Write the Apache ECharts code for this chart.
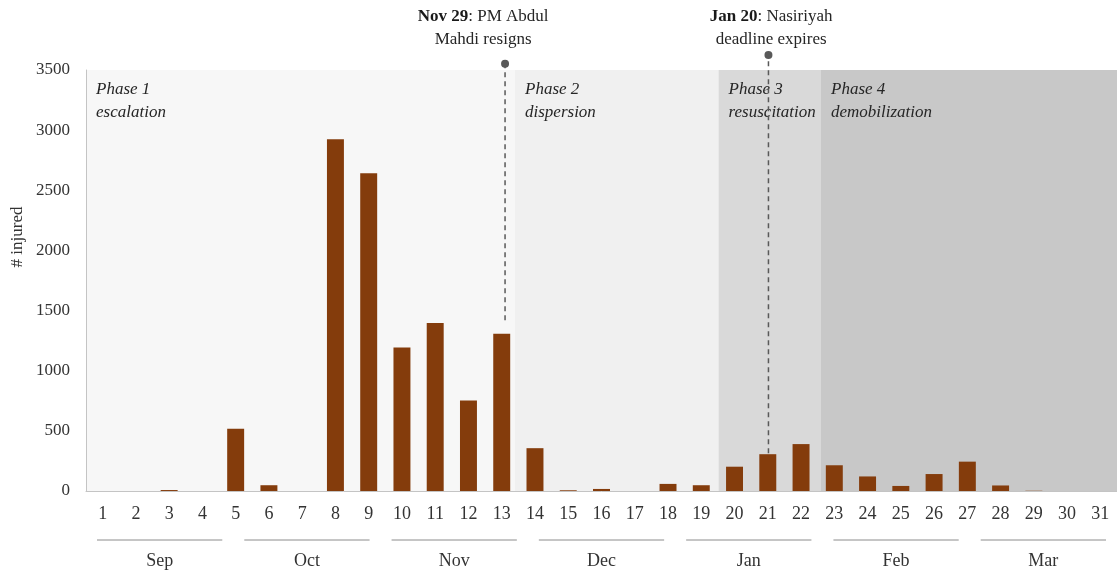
<!DOCTYPE html>
<html><head><meta charset="utf-8">
<script src="https://cdn.jsdelivr.net/npm/echarts@6/dist/echarts.min.js"></script>
<style>html,body{margin:0;padding:0;background:#fff}#c{width:1117px;height:570px}</style>
</head><body><div id="c"></div>
<script>
// ---- data ----
const weeks = ['1','2','3','4','5','6','7','8','9','10','11','12','13','14','15','16','17','18','19','20','21','22','23','24','25','26','27','28','29','30','31'];
const injured = [0,0,8,0,518,48,0,2925,2642,1193,1397,752,1308,356,6,17,0,59,48,202,306,390,214,121,42,141,244,46,2,0,0];
const months = ['Sep','Oct','Nov','Dec','Jan','Feb','Mar'];
const yTicks = [0,500,1000,1500,2000,2500,3000,3500];
const phaseNames = ['Phase 1','Phase 2','Phase 3','Phase 4'];
const phaseDesc = ['escalation','dispersion','resuscitation','demobilization'];
const phaseStart = [0, 12.9, 19.02, 22.1];   // in weeks
const phaseEnd = [12.9, 19.02, 22.1, 31];
const eventDate = ['Nov 29','Jan 20'];
const eventText = ['PM Abdul\nMahdi resigns','Nasiriyah\ndeadline expires'];
const eventWeek = [12.6, 20.52];
const eventLow = [1420, 314];

// ---- style ----
const phaseColors = ['#f7f7f7','#f0f0f0','#d9d9d9','#c8c8c8'];
const eventTop = [3552, 3625];
const eventLabelWeek = [11.94, 20.6];
const eventLabelY = 3654;
const serif = "'Liberation Serif', 'DejaVu Serif', serif";
const txt = '#333333';

const chart = echarts.init(document.getElementById('c'), null, {renderer: 'canvas'});

chart.setOption({
  animation: false,
  grid: {left: 86, top: 70, width: 1036, height: 421, containLabel: false},
  xAxis: [
    {type: 'category', data: weeks, gridIndex: 0, position: 'bottom',
     axisLine: {show: true, lineStyle: {color: '#c4c4c4', width: 1}},
     axisTick: {show: false},
     axisLabel: {margin: 14, fontFamily: serif, fontSize: 18, color: txt, interval: 0}},
    {type: 'value', min: 0, max: 31, show: false, gridIndex: 0},
    {type: 'category', data: months, gridIndex: 0, position: 'bottom', offset: 49,
     axisLine: {show: false}, axisTick: {show: false},
     axisLabel: {margin: 12, fontFamily: serif, fontSize: 18, color: txt, interval: 0}}
  ],
  yAxis: {type: 'value', min: yTicks[0], max: yTicks[yTicks.length-1], interval: 500,
    axisLine: {show: true, lineStyle: {color: '#c4c4c4', width: 1}},
    axisTick: {show: false}, splitLine: {show: false},
    axisLabel: {margin: 16, fontFamily: serif, fontSize: 17, color: txt, formatter: v => String(v)}},
  graphic: [{type: 'text', x: 18, y: 237, rotation: Math.PI/2,
    style: {text: '# injured', fontFamily: serif, fontSize: 17, fill: txt, textAlign: 'center', textVerticalAlign: 'middle'}}],
  series: [
    {type: 'custom', xAxisIndex: 1, yAxisIndex: 0, z: 0, silent: true,
     data: phaseNames.map((n, i) => [phaseStart[i], phaseEnd[i], i]),
     renderItem: function (params, api) {
       const i = api.value(2);
       const p0 = api.coord([api.value(0), yTicks[yTicks.length-1]]);
       const p1 = api.coord([api.value(1), 0]);
       return {type: 'group', children: [
         {type: 'rect', shape: {x: p0[0], y: p0[1], width: p1[0]-p0[0], height: p1[1]-p0[1]},
          style: {fill: phaseColors[i]}},
         {type: 'text', x: p0[0] + 10, y: p0[1] + 8, z2: 5,
          style: {text: phaseNames[i] + '\n' + phaseDesc[i], fontFamily: serif, fontStyle: 'italic',
            fontSize: 17, lineHeight: 23, fill: '#262626', textAlign: 'left', textVerticalAlign: 'top'}}
       ]};
     }},
    {type: 'bar', xAxisIndex: 0, yAxisIndex: 0, data: injured, barWidth: '51%', z: 2,
     itemStyle: {color: '#843c0c'}},
    {type: 'custom', xAxisIndex: 1, yAxisIndex: 0, z: 5, silent: true, clip: false,
     data: eventWeek.map((w, i) => [w, eventLow[i], eventTop[i], eventLabelWeek[i], i]),
     renderItem: function (params, api) {
       const i = api.value(4);
       const lo = api.coord([api.value(0), api.value(1)]);
       const hi = api.coord([api.value(0), api.value(2)]);
       const lab = api.coord([api.value(3), eventLabelY]);
       return {type: 'group', children: [
         {type: 'line', shape: {x1: lo[0], y1: lo[1], x2: hi[0], y2: hi[1]},
          style: {stroke: '#595959', lineWidth: 1.5, lineDash: [5, 4]}},
         {type: 'circle', shape: {cx: hi[0], cy: hi[1], r: 4}, style: {fill: '#595959'}},
         {type: 'text', x: lab[0], y: lab[1],
          style: {text: '{b|' + eventDate[i] + '}: ' + eventText[i], fontFamily: serif, fontSize: 17,
            lineHeight: 23, fill: '#262626', textAlign: 'center', textVerticalAlign: 'bottom',
            rich: {b: {fontWeight: 'bold', fontFamily: serif, fontSize: 17, lineHeight: 23, fill: '#1a1a1a'}}}}
       ]};
     }},
    {type: 'custom', xAxisIndex: 2, yAxisIndex: 0, z: 5, silent: true, clip: false,
     data: months.map((m, i) => [i]),
     renderItem: function (params, api) {
       const c = api.coord([api.value(0), 0]);
       const w = api.size([1, 0])[0];
       const y = c[1] + 49;
       return {type: 'line', shape: {x1: c[0] - w/2 + 11, y1: y, x2: c[0] + w/2 - 11, y2: y},
         style: {stroke: '#8c8c8c', lineWidth: 1}};
     }}
  ]
});
</script></body></html>
